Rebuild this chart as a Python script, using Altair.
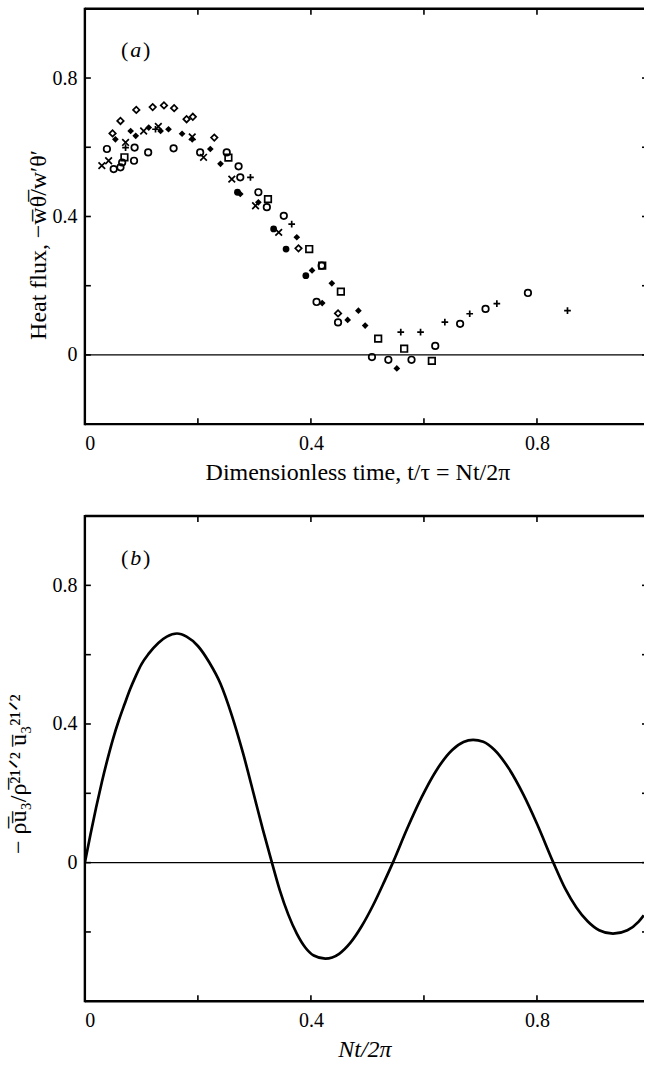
import altair as alt
import pandas as pd

# ---------------- data ----------------
# Panel (a): heat flux scatter, several experiments (marker types)
diamond_x = [0.049, 0.063, 0.091, 0.120, 0.140, 0.158, 0.180, 0.191, 0.229, 0.378, 0.448]
diamond_y = [0.640, 0.676, 0.708, 0.716, 0.721, 0.713, 0.681, 0.688, 0.628, 0.308, 0.120]

circle_x = [0.039, 0.051, 0.063, 0.066, 0.087, 0.088, 0.112, 0.157, 0.204, 0.251, 0.272, 0.275,
            0.307, 0.322, 0.352, 0.410, 0.419, 0.448, 0.508, 0.537, 0.578, 0.620, 0.664, 0.709, 0.784]
circle_y = [0.595, 0.537, 0.542, 0.556, 0.561, 0.599, 0.585, 0.597, 0.585, 0.585, 0.545, 0.513,
            0.470, 0.427, 0.402, 0.153, 0.258, 0.094, -0.006, -0.014, -0.014, 0.026, 0.090, 0.133, 0.179]

square_x = [0.070, 0.254, 0.324, 0.397, 0.420, 0.453, 0.519, 0.565, 0.614]
square_y = [0.571, 0.570, 0.450, 0.306, 0.258, 0.183, 0.047, 0.018, -0.017]

xmark_x = [0.030, 0.042, 0.072, 0.104, 0.130, 0.190, 0.210, 0.260, 0.302, 0.343]
xmark_y = [0.547, 0.561, 0.614, 0.647, 0.660, 0.630, 0.571, 0.508, 0.431, 0.354]

plus_x = [0.072, 0.125, 0.293, 0.366, 0.559, 0.594, 0.637, 0.681, 0.729, 0.854]
plus_y = [0.599, 0.652, 0.513, 0.378, 0.066, 0.066, 0.095, 0.119, 0.148, 0.128]

star_x = [0.054, 0.081, 0.090, 0.113, 0.134, 0.148, 0.172, 0.190, 0.222, 0.240, 0.275, 0.307,
          0.375, 0.402, 0.420, 0.437, 0.465, 0.484, 0.496, 0.552]
star_y = [0.623, 0.647, 0.633, 0.657, 0.647, 0.652, 0.639, 0.623, 0.595, 0.552, 0.465, 0.441,
          0.340, 0.244, 0.150, 0.207, 0.101, 0.128, 0.085, -0.039]

tri_x = [0.270, 0.334, 0.356, 0.391]
tri_y = [0.470, 0.364, 0.306, 0.229]

# Panel (b): curve
curve_x = [0.000, 0.010, 0.020, 0.030, 0.040, 0.050, 0.060, 0.070, 0.080, 0.090, 0.100, 0.113,
           0.130, 0.145, 0.163, 0.180, 0.200, 0.220, 0.240, 0.260, 0.280, 0.300, 0.315, 0.331,
           0.345, 0.360, 0.375, 0.390, 0.405, 0.4255, 0.450, 0.470, 0.490, 0.510, 0.530, 0.545,
           0.570, 0.596, 0.620, 0.650, 0.670, 0.687, 0.705, 0.725, 0.750, 0.776, 0.800, 0.829,
           0.850, 0.870, 0.890, 0.910, 0.9345, 0.960, 0.980, 0.989]
curve_y = [0.000, 0.082, 0.160, 0.232, 0.298, 0.358, 0.410, 0.456, 0.500, 0.538, 0.572, 0.603,
           0.634, 0.652, 0.661, 0.652, 0.625, 0.578, 0.516, 0.425, 0.315, 0.190, 0.095, 0.000,
           -0.080, -0.150, -0.205, -0.245, -0.268, -0.277, -0.263, -0.231, -0.183, -0.123, -0.054, 0.000,
           0.097, 0.189, 0.261, 0.325, 0.348, 0.354, 0.349, 0.325, 0.272, 0.196, 0.112, 0.000,
           -0.075, -0.130, -0.170, -0.195, -0.205, -0.195, -0.170, -0.152]

x_tick_values = [0.2, 0.4, 0.6, 0.8]
x_label_values = [0, 0.4, 0.8]
ya_tick_values = [0.0, 0.2, 0.4, 0.6, 0.8]
yb_tick_values = [-0.2, 0.0, 0.2, 0.4, 0.6, 0.8]
y_label_values = [0, 0.4, 0.8]

# ---------------- layout constants ----------------
FONT = "Liberation Serif"
W = 560
HA = 416
HB = 486
XMAX = 560 / 566  # right edge of the visible frame (x = 1 lies just outside the picture)

xscale = alt.Scale(domain=[0, XMAX], nice=False, zero=False)
ya_scale = alt.Scale(domain=[-0.2, 1.0], nice=False, zero=False)
yb_scale = alt.Scale(domain=[-0.4, 1.0], nice=False, zero=False)

CROSS_X = "M-1,-1L1,1M-1,1L1,-1"
PLUS = "M-1,0L1,0M0,-1L0,1"


def x_axis(title, italic=False, tx=None):
    kw = dict(values=x_label_values, format="~g", labelPadding=9, title=title, titlePadding=7)
    if italic:
        kw["titleFontStyle"] = "italic"
    if tx is not None:
        kw["titleX"] = tx
    return alt.Axis(**kw)


def y_axis(title, ty, tx):
    return alt.Axis(values=y_label_values, format="~g", labelPadding=8,
                    title=title, titleX=tx, titleY=ty, titleAlign="center",
                    titleBaseline="middle", titleAngle=270)


def frame_layers(ys, yticks, h):
    tx = pd.DataFrame({"v": x_tick_values})
    ty = pd.DataFrame({"v": yticks})
    st = dict(color="black", strokeWidth=1.6)
    fr = dict(color="black", strokeWidth=2.4)
    one = pd.DataFrame({"k": [0]})
    left_b = alt.Chart(one).mark_rule(**fr).encode(x=alt.value(0), y=alt.value(-1), y2=alt.value(h + 1))
    top_b = alt.Chart(one).mark_rule(**fr).encode(y=alt.value(0), x=alt.value(0), x2=alt.value(W))
    bot_b = alt.Chart(one).mark_rule(**fr).encode(y=alt.value(h), x=alt.value(0), x2=alt.value(W))
    bottom = alt.Chart(tx).mark_rule(**st).encode(
        x=alt.X("v:Q", scale=xscale), y=alt.value(h), y2=alt.value(h - 6))
    top = alt.Chart(tx).mark_rule(**st).encode(
        x=alt.X("v:Q", scale=xscale), y=alt.value(0), y2=alt.value(6))
    left = alt.Chart(ty).mark_rule(**st).encode(
        y=alt.Y("v:Q", scale=ys), x=alt.value(0), x2=alt.value(6))
    right = alt.Chart(ty).mark_rule(**st).encode(
        y=alt.Y("v:Q", scale=ys), x=alt.value(W), x2=alt.value(W - 2))
    return [left_b, top_b, bot_b, bottom, top, left, right]


def panel_label(letter, ys):
    d = pd.DataFrame({"x": [0.09], "y": [0.88]})
    base = alt.Chart(d)
    enc = dict(x=alt.X("x:Q", scale=xscale), y=alt.Y("y:Q", scale=ys))
    lp = base.mark_text(text="(", font=FONT, fontSize=22, color="black", dx=-11).encode(**enc)
    lt = base.mark_text(text=letter, font=FONT, fontSize=22, fontStyle="italic", color="black").encode(**enc)
    rp = base.mark_text(text=")", font=FONT, fontSize=22, color="black", dx=11).encode(**enc)
    return [lp, lt, rp]


# ---------------- panel (a) ----------------
open_df = pd.concat([
    pd.DataFrame({"x": diamond_x, "y": diamond_y, "m": "diamond"}),
    pd.DataFrame({"x": circle_x, "y": circle_y, "m": "circle"}),
    pd.DataFrame({"x": square_x, "y": square_y, "m": "square"}),
    pd.DataFrame({"x": xmark_x, "y": xmark_y, "m": "x"}),
    pd.DataFrame({"x": plus_x, "y": plus_y, "m": "plus"}),
], ignore_index=True)
filled_df = pd.concat([
    pd.DataFrame({"x": star_x, "y": star_y, "m": "star"}),
    pd.DataFrame({"x": tri_x, "y": tri_y, "m": "tri"}),
], ignore_index=True)

open_pts = alt.Chart(open_df).mark_point(filled=False, color="black", strokeWidth=1.7, opacity=1).encode(
    x=alt.X("x:Q", scale=xscale, axis=x_axis("Dimensionless time, t/τ = Nt/2π", tx=273)),
    y=alt.Y("y:Q", scale=ya_scale,
            axis=y_axis("Heat flux, \u2212w\u0305\u03b8\u0305/w\u2032\u03b8\u2032", 236, -46)),
    shape=alt.Shape("m:N", legend=None,
                    scale=alt.Scale(domain=["diamond", "circle", "square", "x", "plus"],
                                    range=["diamond", "circle", "square", CROSS_X, PLUS])),
    size=alt.Size("m:N", legend=None,
                  scale=alt.Scale(domain=["diamond", "circle", "square", "x", "plus"],
                                  range=[42, 46, 26, 45, 55])),
)
filled_pts = alt.Chart(filled_df).mark_point(filled=True, color="black", opacity=1).encode(
    x=alt.X("x:Q", scale=xscale),
    y=alt.Y("y:Q", scale=ya_scale),
    shape=alt.Shape("m:N", legend=None,
                    scale=alt.Scale(domain=["star", "tri"], range=["star", "triangle-down"])),
    size=alt.Size("m:N", legend=None, scale=alt.Scale(domain=["star", "tri"], range=[85, 42])),
)
zero_a = alt.Chart(pd.DataFrame({"y": [0.0]})).mark_rule(color="black", strokeWidth=1.3).encode(
    y=alt.Y("y:Q", scale=ya_scale))

panel_a = alt.layer(
    open_pts, filled_pts, zero_a, *frame_layers(ya_scale, ya_tick_values, HA), *panel_label("a", ya_scale)
).properties(width=W, height=HA)

# ---------------- panel (b) ----------------
curve_df = pd.DataFrame({"x": curve_x, "y": curve_y})
curve = alt.Chart(curve_df).mark_line(color="black", strokeWidth=2.7, interpolate="monotone", clip=True).encode(
    x=alt.X("x:Q", scale=xscale, axis=x_axis("Nt/2π", italic=True)),
    y=alt.Y("y:Q", scale=yb_scale,
            axis=y_axis("\u2212   \u03c1\u0305u\u0305\u2083/\u03c1\u0305\u00b2\u00b9\u141f\u00b2 u\u0305\u2083\u00b2\u00b9\u141f\u00b2",
                        258, -66)),
)
zero_b = alt.Chart(pd.DataFrame({"y": [0.0]})).mark_rule(color="black", strokeWidth=1.3).encode(
    y=alt.Y("y:Q", scale=yb_scale))
panel_b = alt.layer(
    curve, zero_b, *frame_layers(yb_scale, yb_tick_values, HB), *panel_label("b", yb_scale)
).properties(width=W, height=HB)

chart = alt.vconcat(panel_a, panel_b, spacing=29).properties(
    padding={"left": 7, "top": 5, "right": 0, "bottom": 0}
).configure_view(
    strokeWidth=0
).configure_axis(
    domain=False, grid=False, ticks=False, tickSize=0,
    labelFont=FONT, labelFontSize=20, labelColor="black",
    titleFont=FONT, titleFontSize=24, titleFontWeight="normal", titleColor="black",
)

chart.save("out.html", embed_options={"renderer": "svg", "actions": False})
